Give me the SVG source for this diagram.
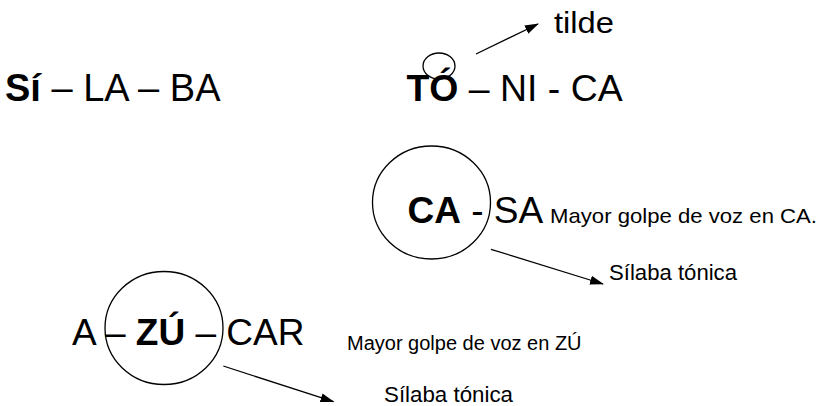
<svg xmlns="http://www.w3.org/2000/svg" width="826" height="406" viewBox="0 0 826 406">
<style>
text{font-family:"Liberation Sans",Arial,sans-serif;fill:#000}
.big{font-size:37px}
.b{font-weight:bold}
.sm{font-size:20px}
.ring{fill:none;stroke:#000;stroke-width:1.3}
.arr{fill:none;stroke:#000;stroke-width:1.3;marker-end:url(#ah)}
</style>
<defs>
<marker id="ah" markerUnits="userSpaceOnUse" markerWidth="14" markerHeight="10" refX="13" refY="5" orient="auto">
<path d="M0,0.5 L14,5 L0,9.5 z" fill="#000"/>
</marker>
</defs>
<rect width="826" height="406" fill="#fff"/>
<g id="silaba">
<text class="big" x="5" y="101" font-size="38" style="font-size:38px"><tspan class="b">Sí</tspan> – LA – BA</text>
</g>
<g id="tonica">
<text class="big" x="406.5" y="101" style="font-size:37.4px"><tspan class="b">TÓ</tspan> – NI - CA</text>
<ellipse class="ring" cx="439" cy="66" rx="16" ry="13"/>
</g>
<g id="tilde">
<text x="554" y="33" font-size="29" textLength="60" lengthAdjust="spacingAndGlyphs">tilde</text>
</g>
<g id="casa">
<ellipse class="ring" cx="431.5" cy="202.5" rx="59" ry="56.5"/>
<text class="big" x="407.5" y="223"><tspan class="b">CA</tspan> - SA</text>
<text x="550" y="223" font-size="21" textLength="267" lengthAdjust="spacingAndGlyphs">Mayor golpe de voz en CA.</text>
</g>
<g id="tonica1">
<text x="609" y="280" font-size="22" textLength="128" lengthAdjust="spacingAndGlyphs">Sílaba tónica</text>
</g>
<g id="azucar">
<ellipse class="ring" cx="164" cy="328" rx="59" ry="56.5"/>
<text class="big" x="72" y="345">A – <tspan class="b">ZÚ</tspan> – CAR</text>
<text class="sm" x="347" y="350">Mayor golpe de voz en ZÚ</text>
</g>
<g id="tonica2">
<text x="384" y="402" font-size="22" textLength="129" lengthAdjust="spacingAndGlyphs">Sílaba tónica</text>
</g>
<g id="connectors">
<line class="arr" x1="476" y1="54" x2="538" y2="24"/>
<line class="arr" x1="491" y1="249.3" x2="603" y2="284"/>
<line class="arr" x1="223.3" y1="366" x2="333.5" y2="401.7"/>
</g>
</svg>
